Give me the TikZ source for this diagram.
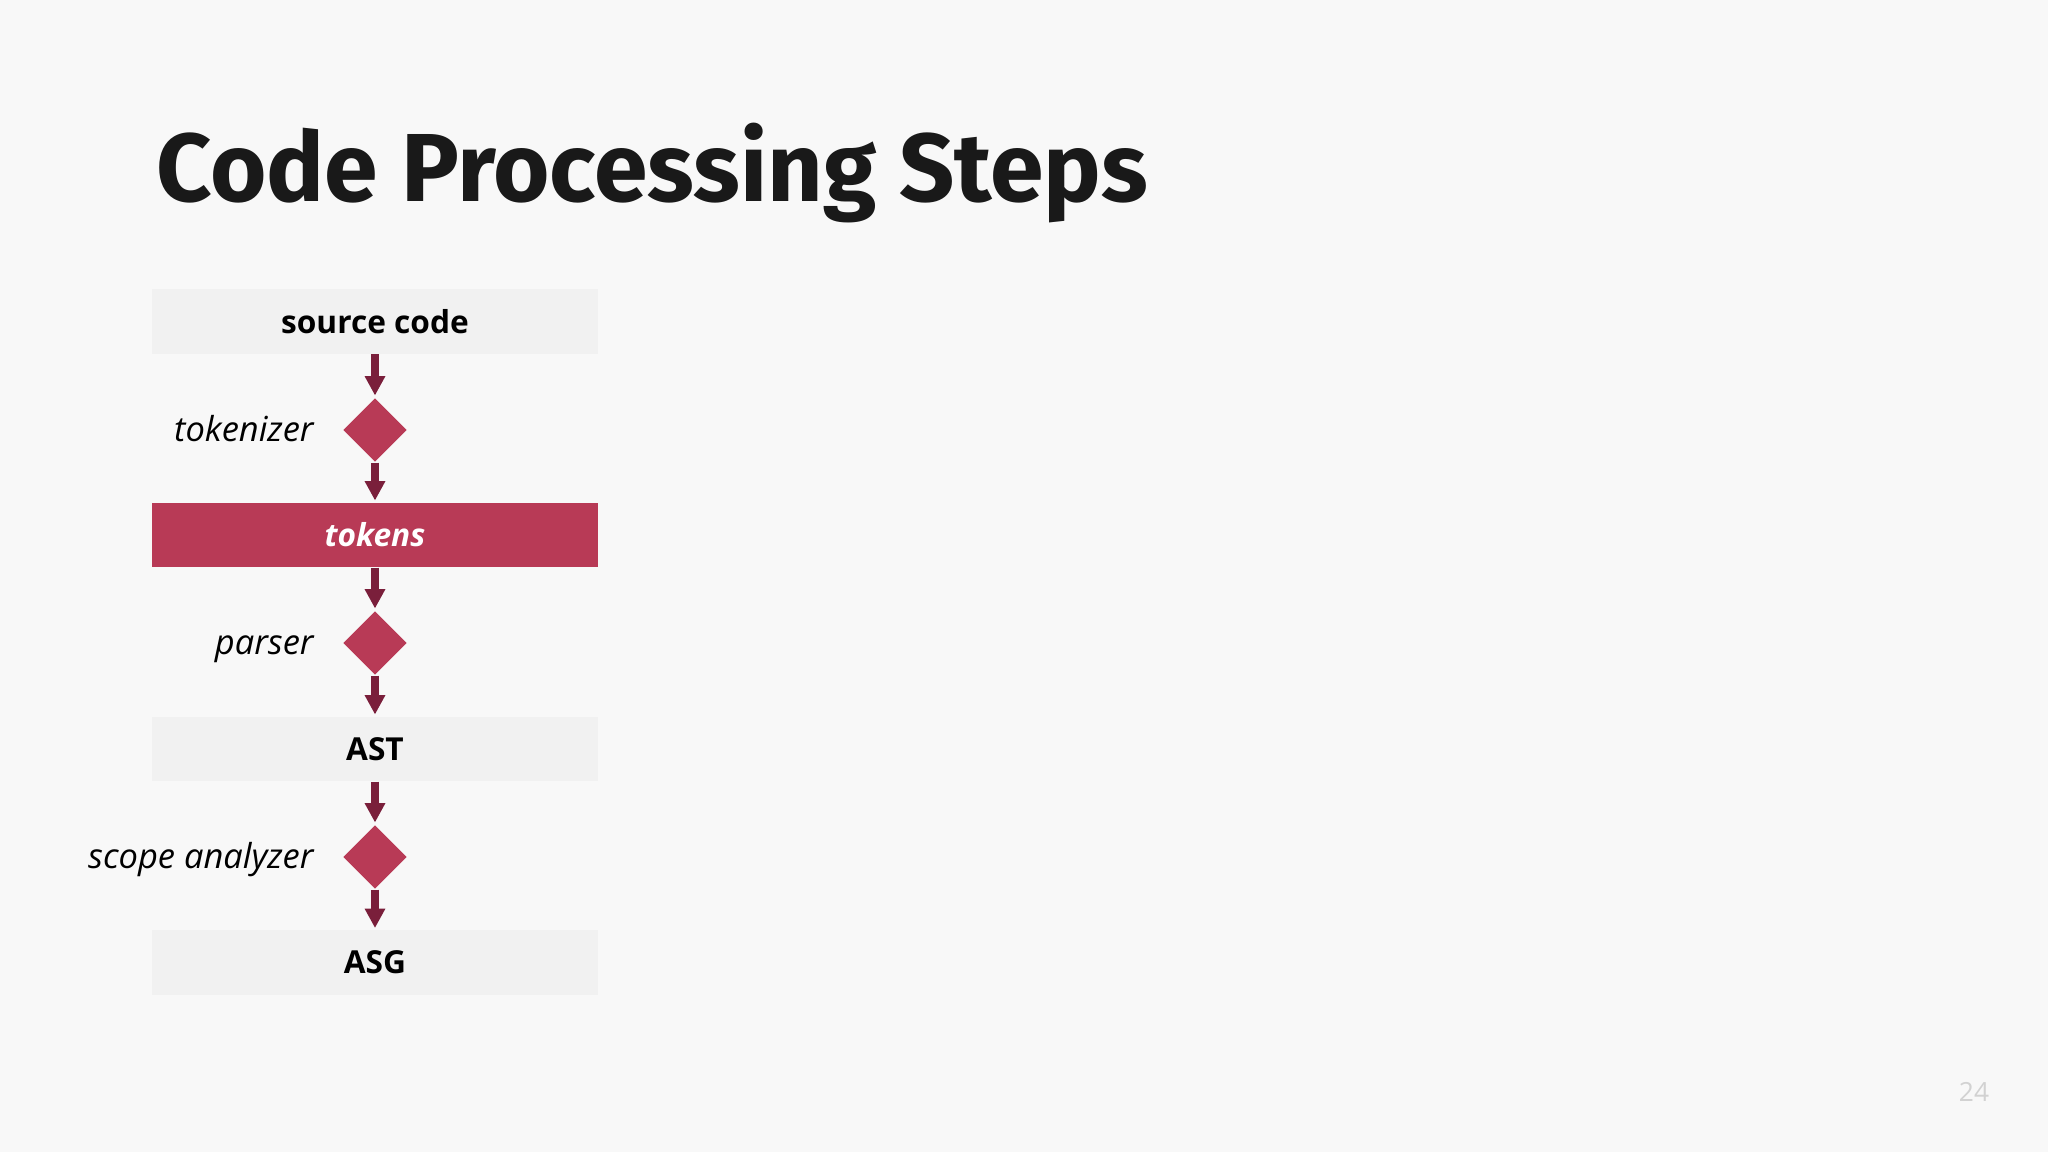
\documentclass[tikz,border=0pt]{standalone}
\usepackage{fontspec}
\setmainfont{Open Sans}
\newfontfamily\headfont{Fira Sans}
\usetikzlibrary{shapes.geometric, arrows.meta, positioning}
\definecolor{bgcol}{HTML}{F8F8F8}
\definecolor{boxcol}{HTML}{F1F1F1}
\definecolor{crimson}{HTML}{B83A56}
\definecolor{arrowcol}{HTML}{7A1F3B}
\definecolor{pagecol}{HTML}{D2D2D2}

\tikzset{
	stage/.style={inner sep=0pt, minimum width=4.45cm, minimum height=0.64cm, fill=boxcol, font=\fontsize{9pt}{11pt}\selectfont\bfseries},
	tool/.style={diamond, inner sep=0pt, minimum size=0.64cm, fill=crimson},
	toolname/.style={inner sep=0pt, text height=8.7pt, text depth=2pt, font=\fontsize{9.8pt}{12pt}\selectfont\itshape},
	flow/.style={draw=arrowcol, line width=2pt, -{Triangle[length=5.5pt,width=5.5pt]}, shorten >=0.5pt}
}

\begin{document}
\begin{tikzpicture}[x=0.01cm, y=-0.01cm]
		\fill[bgcol] (0,0) rectangle (2048,1152);
		\draw (156,202) node[anchor=base west, inner sep=0pt, text=black!90, font=\headfont\bfseries\fontsize{27.5pt}{33pt}\selectfont] (title) {Code Processing Steps}
		(375,321.5) node[stage] (src) {source code}
		(375,430) node[tool] (tokz) {}
		(375,535) node[stage, fill=crimson, text=white, font=\fontsize{9pt}{11pt}\selectfont\bfseries\itshape] (tok) {tokens}
		(375,643) node[tool] (pars) {}
		(375,749) node[stage] (ast) {AST}
		(375,857) node[tool] (scop) {}
		(375,962.5) node[stage] (asg) {ASG};
		
		\node[toolname, left=0.28cm of tokz] (tokzlbl) {tokenizer};
		\node[toolname, left=0.28cm of pars] (parslbl) {parser};
		\node[toolname, left=0.28cm of scop] (scoplbl) {scope analyzer};
		\node[text=pagecol, font=\fontsize{7.5pt}{9pt}\selectfont] (pagenum) at (1974,1092) {24};
		
		\draw[flow] (src) -- (tokz);
		\draw[flow] (tokz) -- (tok);
		\draw[flow] (tok) -- (pars);
		\draw[flow] (pars) -- (ast);
		\draw[flow] (ast) -- (scop);
		\draw[flow] (scop) -- (asg);
	\end{tikzpicture}
\end{document}
